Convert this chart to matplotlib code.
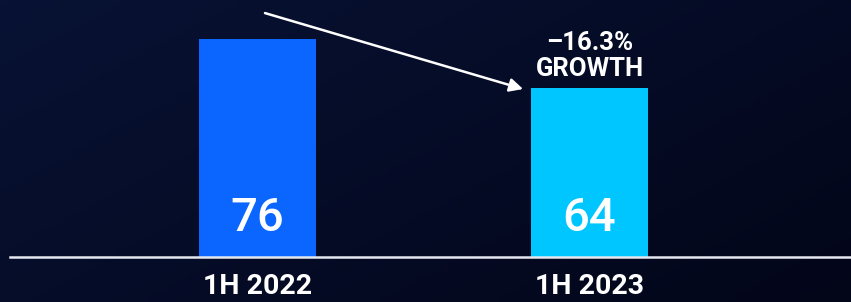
import numpy as np
import matplotlib
matplotlib.use("Agg")
import matplotlib.pyplot as plt
from matplotlib.colors import LinearSegmentedColormap

# data
periods = ["1H 2022", "1H 2023"]
values = [76, 64]
bar_colors = ["#0A66FF", "#00C6FF"]
growth_label = "–16.3%\nGROWTH"

plt.rcParams["font.family"] = ["Roboto", "DejaVu Sans"]

fig = plt.figure(figsize=(8.51, 3.02), dpi=100)

# dark navy gradient background
bg = fig.add_axes([0, 0, 1, 1], zorder=0)
gx, gy = np.meshgrid(np.linspace(0, 1, 200), np.linspace(0, 1, 80))
grad = 0.6 * gx + 0.4 * gy
cmap = LinearSegmentedColormap.from_list("bg", ["#081234", "#030619"])
bg.imshow(grad, cmap=cmap, aspect="auto", extent=[0, 1, 0, 1])
bg.axis("off")

ax = fig.add_axes([0, 0.148, 1, 0.852], zorder=1)
ax.patch.set_alpha(0)

x = np.arange(len(periods))
ax.bar(x, values, width=0.352, color=bar_colors, zorder=2)
ax.set_xlim(-0.7756, 1.7877)
ax.set_ylim(22.6, 85.6)

# value labels near the bottom of each bar
for xi, v in zip(x, values):
    ax.text(xi, 0.153, str(v), transform=ax.get_xaxis_transform(),
            ha="center", va="center", color="white", fontsize=34,
            fontweight="medium", zorder=3)

# baseline
ax.axhline(22.6, xmin=10 / 851, xmax=1, color="#e6e8f0", lw=1.8, zorder=4,
           clip_on=False)

for s in ax.spines.values():
    s.set_visible(False)
ax.set_yticks([])
ax.set_xticks(x)
ax.set_xticklabels(periods, color="white", fontsize=20.5, fontweight="bold")
ax.tick_params(axis="x", length=0, pad=11)

# growth note and trend arrow
ax.text(1, 0.782, growth_label, transform=ax.get_xaxis_transform(),
        ha="center", va="center", color="white", fontsize=18.5,
        fontweight="bold", linespacing=1.1)
ax.annotate("", xy=(0.80, 63.8), xytext=(0.0226, 82.4),
            arrowprops=dict(arrowstyle="-|>", color="white", lw=1.8,
                            mutation_scale=20, shrinkA=0, shrinkB=0))

fig.savefig("out.png", dpi=100)
